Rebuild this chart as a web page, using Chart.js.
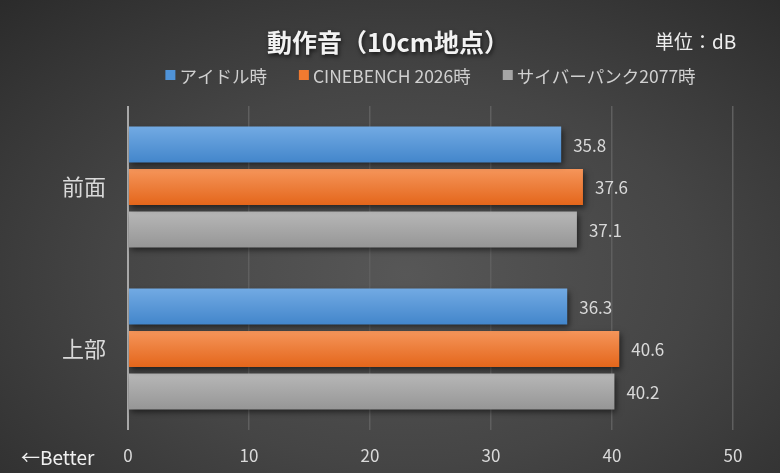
<!DOCTYPE html>
<html lang="ja">
<head>
<meta charset="UTF-8">
<title>動作音（10cm地点）</title>
<script src="https://cdn.jsdelivr.net/npm/chart.js"></script>
<style>
    html, body {
        margin: 0;
        padding: 0;
    }
    body {
        width: 780px;
        height: 473px;
        overflow: hidden;
        background: radial-gradient(ellipse 75% 80% at 52% 58%, #575757 0%, #454545 50%, #2b2b2b 100%);
    }
    #noiseChart {
        display: block;
    }
</style>
</head>
<body>
<canvas id="noiseChart" width="780" height="473"></canvas>
<script>
// data
const categories = ['前面', '上部'];
const seriesNames = ['アイドル時', 'CINEBENCH 2026時', 'サイバーパンク2077時'];
const idleValues = [35.8, 36.3];
const cinebenchValues = [37.6, 40.6];
const cyberpunkValues = [37.1, 40.2];
const xMin = 0;
const xMax = 50;
const xStep = 10;

const chartTitle = '動作音（10cm地点）';
const unitLabel = '単位：dB';
const betterLabel = '←Better';

const FONT = '"Noto Sans CJK JP", sans-serif';

// top / bottom colours of each bar gradient
const barColors = [
    ['#72aae3', '#4386cb'],
    ['#f5955a', '#e4661b'],
    ['#b7b7b7', '#969696']
];
const legendColors = ['#4f93d8', '#f07a30', '#a6a6a6'];

// gradient + shadow for every bar
const barStylePlugin = {
    id: 'barStyle',
    beforeDatasetDraw(chart, args) {
        const c = chart.ctx;
        const cols = barColors[args.index];
        args.meta.data.forEach(function (bar) {
            const top = bar.y - bar.height / 2;
            const g = c.createLinearGradient(0, top, 0, top + bar.height);
            g.addColorStop(0, cols[0]);
            g.addColorStop(1, cols[1]);
            bar.options = Object.assign({}, bar.options, { backgroundColor: g });
        });
        c.save();
        c.shadowColor = 'rgba(0,0,0,0.55)';
        c.shadowBlur = 6;
        c.shadowOffsetX = 2;
        c.shadowOffsetY = 3;
    },
    afterDatasetDraw(chart) {
        chart.ctx.restore();
    }
};

// value labels, title, legend and notes
const textPlugin = {
    id: 'texts',
    afterDatasetsDraw(chart) {
        const c = chart.ctx;
        c.save();
        c.font = '17px ' + FONT;
        c.fillStyle = '#d9d9d9';
        c.textAlign = 'left';
        c.textBaseline = 'middle';
        chart.data.datasets.forEach(function (ds, i) {
            chart.getDatasetMeta(i).data.forEach(function (bar, j) {
                c.fillText(ds.data[j].toFixed(1), bar.x + 12, bar.y + 1);
            });
        });
        c.restore();
    },
    afterDraw(chart) {
        const c = chart.ctx;
        const area = chart.chartArea;
        c.save();

        // title
        c.font = 'bold 25px ' + FONT;
        c.textAlign = 'center';
        c.textBaseline = 'middle';
        c.shadowColor = 'rgba(0,0,0,0.7)';
        c.shadowBlur = 4;
        c.shadowOffsetX = 1;
        c.shadowOffsetY = 2;
        c.fillStyle = '#f2f2f2';
        c.fillText(chartTitle, 388, 42);
        c.shadowColor = 'transparent';

        // unit
        c.font = '19px ' + FONT;
        c.textAlign = 'left';
        c.fillStyle = '#eeeeee';
        c.fillText(unitLabel, 655, 42);

        // legend
        c.font = '17.5px ' + FONT;
        const box = 10, gap = 4, spacing = 32;
        const widths = seriesNames.map(function (n) { return box + gap + c.measureText(n).width; });
        const total = widths.reduce(function (a, b) { return a + b; }, 0) + spacing * (seriesNames.length - 1);
        let x = (area.left + area.right) / 2 - total / 2;
        const y = 75;
        seriesNames.forEach(function (n, i) {
            c.fillStyle = legendColors[i];
            c.fillRect(x, y - box / 2, box, box);
            c.fillStyle = '#d0d0d0';
            c.fillText(n, x + box + gap, y + 1);
            x += widths[i] + spacing;
        });

        // better note
        c.font = '19px ' + FONT;
        c.fillStyle = '#f0f0f0';
        c.fillText(betterLabel, 21, 458);
        c.restore();
    }
};

const ctx = document.getElementById('noiseChart').getContext('2d');
const noiseChart = new Chart(ctx, {
    type: 'bar',
    data: {
        labels: categories,
        datasets: [
            { label: seriesNames[0], data: idleValues },
            { label: seriesNames[1], data: cinebenchValues },
            { label: seriesNames[2], data: cyberpunkValues }
        ].map(function (ds, i) {
            ds.backgroundColor = legendColors[i];
            ds.borderWidth = 0;
            ds.categoryPercentage = 0.787;
            ds.barPercentage = 0.847;
            return ds;
        })
    },
    options: {
        indexAxis: 'y',
        responsive: false,
        animation: false,
        devicePixelRatio: 1,
        layout: {
            padding: { top: 106, right: 47, bottom: 0, left: 0 }
        },
        plugins: {
            legend: { display: false },
            title: { display: false },
            tooltip: { enabled: false }
        },
        scales: {
            x: {
                min: xMin,
                max: xMax,
                afterFit: function (scale) { scale.height = 43; },
                ticks: {
                    stepSize: xStep,
                    color: '#d9d9d9',
                    padding: 15,
                    font: { family: FONT, size: 17 }
                },
                border: { display: false },
                grid: {
                    drawTicks: false,
                    lineWidth: function (c) { return c.tick && c.tick.value === 0 ? 2 : 1.5; },
                    color: function (c) { return c.tick && c.tick.value === 0 ? '#a8a8a8' : '#5f5f5f'; }
                }
            },
            y: {
                afterFit: function (scale) { scale.width = 128; },
                ticks: {
                    color: '#d9d9d9',
                    padding: 14,
                    font: { family: FONT, size: 22 }
                },
                border: { display: false },
                grid: { display: false }
            }
        }
    },
    plugins: [barStylePlugin, textPlugin]
});
</script>
</body>
</html>
